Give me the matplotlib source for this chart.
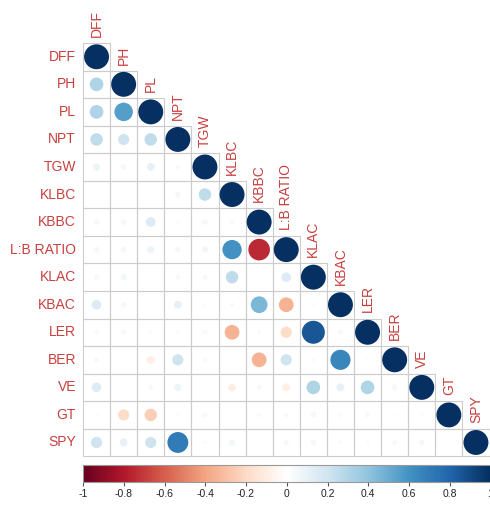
import numpy as np
import matplotlib
matplotlib.use('Agg')
import matplotlib.pyplot as plt
from matplotlib.colors import LinearSegmentedColormap, Normalize
from matplotlib.patches import Rectangle
from matplotlib.cm import ScalarMappable

# Variables (rows / columns of the correlation matrix)
labels = ['DFF', 'PH', 'PL', 'NPT', 'TGW', 'KLBC', 'KBBC', 'L:B RATIO',
          'KLAC', 'KBAC', 'LER', 'BER', 'VE', 'GT', 'SPY']

# Lower triangle, read row by row (excluding diagonal = 1)
lower = [
    [],
    [0.30],
    [0.30, 0.55],
    [0.25, 0.20, 0.25],
    [0.08, 0.05, 0.10, 0.03],
    [0.00, 0.00, 0.00, 0.05, 0.25],
    [0.05, 0.05, 0.15, 0.02, 0.05, 0.04],
    [0.05, 0.05, 0.08, 0.05, 0.06, 0.60, -0.75],
    [0.04, 0.06, 0.00, 0.04, 0.04, 0.25, 0.00, 0.15],
    [0.15, 0.05, 0.00, 0.10, 0.02, 0.03, 0.45, -0.35, 0.02],
    [0.03, 0.04, 0.02, 0.02, -0.04, -0.35, 0.03, -0.20, 0.85, 0.04],
    [0.04, 0.00, -0.10, 0.20, 0.03, 0.00, -0.35, 0.20, 0.02, 0.65, 0.02],
    [0.15, 0.00, 0.04, 0.08, 0.00, -0.10, 0.04, -0.10, 0.30, 0.10, 0.30, 0.05],
    [0.02, -0.20, -0.25, 0.02, 0.04, 0.00, 0.03, 0.03, 0.05, -0.04, 0.04, -0.02, 0.02],
    [0.20, 0.10, 0.20, 0.70, 0.02, 0.06, 0.00, 0.04, 0.05, 0.03, 0.02, 0.04, 0.05, 0.01],
]

cbar_ticks = [-1, -0.8, -0.6, -0.4, -0.2, 0, 0.2, 0.4, 0.6, 0.8, 1]

# corrplot RdBu palette
rdbu = ["#67001F", "#B2182B", "#D6604D", "#F4A582", "#FDDBC7", "#FFFFFF",
        "#D1E5F0", "#92C5DE", "#4393C3", "#2166AC", "#053061"]
cmap = LinearSegmentedColormap.from_list('corr', rdbu, N=200)
norm = Normalize(-1, 1)

LABEL_COL = '#C8403F'
GRID_COL = '#CCCCCC'

# Layout in pixels
W, H, DPI = 490, 505, 100
left_px, top_px = 83, 43
cw, ch = 27.1, 27.55
n = len(labels)

fig = plt.figure(figsize=(W / DPI, H / DPI), dpi=DPI)
ax = fig.add_axes([0, 0, 1, 1])
ax.set_xlim(-0.5 - left_px / cw, -0.5 + (W - left_px) / cw)
ax.set_ylim(-0.5 + (H - top_px) / ch, -0.5 - top_px / ch)
ax.axis('off')

# full matrix
corr = np.eye(n)
for i, row in enumerate(lower):
    for j, v in enumerate(row):
        corr[i, j] = v
        corr[j, i] = v

xs, ys, vals = [], [], []
for i in range(n):
    for j in range(i + 1):
        ax.add_patch(Rectangle((j - 0.5, i - 0.5), 1, 1, fill=False,
                               edgecolor=GRID_COL, lw=0.8, zorder=1))
        xs.append(j)
        ys.append(i)
        vals.append(corr[i, j])
vals = np.array(vals)

# circle area proportional to |r|
rad_px = 0.46 * cw * np.sqrt(np.abs(vals))
size_pt2 = (2 * rad_px * 72 / DPI) ** 2
ax.scatter(xs, ys, s=size_pt2, c=vals, cmap=cmap, norm=norm,
           edgecolors='none', zorder=2)

# row labels
for i, lab in enumerate(labels):
    ax.text(-0.5 - 7 / cw, i, lab, ha='right', va='center',
            fontsize=10, color=LABEL_COL, family='Liberation Sans')
    # column labels above diagonal cell
    ax.text(i, i - 0.5 - 6 / ch, lab, ha='center', va='bottom', rotation=90,
            fontsize=10, color=LABEL_COL, family='Liberation Sans')

# colorbar
cb_left, cb_top, cb_h = 83, 465, 17
cax = fig.add_axes([cb_left / W, (H - cb_top - cb_h) / H,
                    (W - cb_left + 0.5) / W, cb_h / H])
cb = fig.colorbar(ScalarMappable(norm=norm, cmap=cmap), cax=cax,
                  orientation='horizontal', ticks=cbar_ticks)
cb.ax.set_xticklabels([f'{t:g}' for t in cbar_ticks])
cb.outline.set_edgecolor('#999999')
cb.outline.set_linewidth(0.8)
cb.ax.tick_params(length=3, width=0.8, color='#555555', labelsize=7.5,
                  pad=2, labelcolor='#222222')
for t in cb.ax.get_xticklabels():
    t.set_family('Liberation Sans')

fig.savefig('out.png', dpi=DPI)
